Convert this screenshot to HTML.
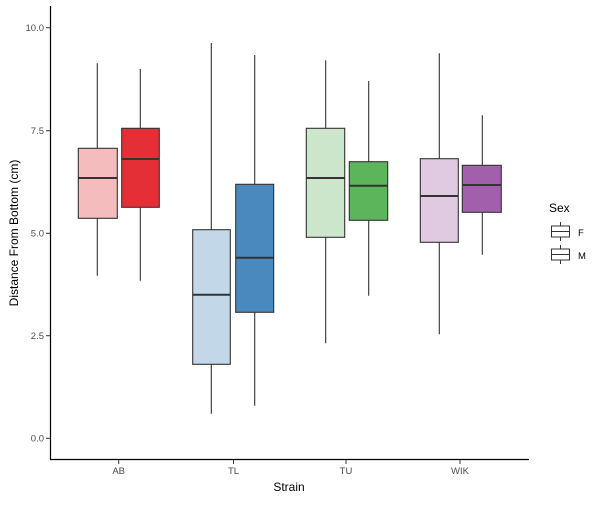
<!DOCTYPE html>
<html><head><style>body{margin:0;background:#fff}</style></head><body>
<svg width="600" height="500" xmlns="http://www.w3.org/2000/svg" font-family="Liberation Sans, sans-serif">
<rect width="600" height="500" fill="#fff"/>
<g stroke="#333" stroke-width="1.1">
<!-- AB F -->
<line x1="97.3" y1="63.3" x2="97.3" y2="275.7"/>
<rect x="78.3" y="148.3" width="39" height="70" fill="#f4bcbc"/>
<line x1="78.3" y1="178" x2="117.3" y2="178" stroke-width="2"/>
<!-- AB M -->
<line x1="140.3" y1="69" x2="140.3" y2="280.7"/>
<rect x="121.7" y="128.3" width="37.6" height="79" fill="#e42f36"/>
<line x1="121.7" y1="159" x2="159.3" y2="159" stroke-width="2"/>
<!-- TL F -->
<line x1="211.3" y1="43" x2="211.3" y2="413.7"/>
<rect x="192.7" y="229.7" width="37.6" height="134.6" fill="#c2d7e8"/>
<line x1="192.7" y1="294.7" x2="230.3" y2="294.7" stroke-width="2"/>
<!-- TL M -->
<line x1="254.7" y1="55" x2="254.7" y2="405.7"/>
<rect x="235.7" y="184.3" width="38" height="128" fill="#4a89be"/>
<line x1="235.7" y1="257.7" x2="273.7" y2="257.7" stroke-width="2"/>
<!-- TU F -->
<line x1="325.7" y1="60.3" x2="325.7" y2="343.3"/>
<rect x="306.3" y="128.3" width="38.4" height="109" fill="#cbe6ca"/>
<line x1="306.3" y1="178" x2="344.7" y2="178" stroke-width="2"/>
<!-- TU M -->
<line x1="368.7" y1="81" x2="368.7" y2="295.7"/>
<rect x="349.3" y="161.7" width="38.4" height="58.6" fill="#5cb55b"/>
<line x1="349.3" y1="185.7" x2="387.7" y2="185.7" stroke-width="2"/>
<!-- WIK F -->
<line x1="439.3" y1="53.3" x2="439.3" y2="334.3"/>
<rect x="420.3" y="158.7" width="38" height="83.6" fill="#dfcae2"/>
<line x1="420.3" y1="196" x2="458.3" y2="196" stroke-width="2"/>
<!-- WIK M -->
<line x1="482.3" y1="115.3" x2="482.3" y2="254.7"/>
<rect x="462.3" y="165.3" width="39" height="47" fill="#a25fac"/>
<line x1="462.3" y1="185" x2="501.3" y2="185" stroke-width="2"/>
</g>
<!-- axes -->
<g stroke="#000" stroke-width="1.2">
<line x1="50.5" y1="6" x2="50.5" y2="459.5"/>
<line x1="50" y1="459.5" x2="529" y2="459.5"/>
</g>
<g stroke="#333" stroke-width="1">
<line x1="46" y1="27.7" x2="50" y2="27.7"/><line x1="46" y1="130.7" x2="50" y2="130.7"/>
<line x1="46" y1="233.3" x2="50" y2="233.3"/><line x1="46" y1="335.7" x2="50" y2="335.7"/>
<line x1="46" y1="438.3" x2="50" y2="438.3"/>
<line x1="118.7" y1="460" x2="118.7" y2="464"/><line x1="233.5" y1="460" x2="233.5" y2="464"/>
<line x1="346" y1="460" x2="346" y2="464"/><line x1="460" y1="460" x2="460" y2="464"/>
</g>
<g font-size="9.5" fill="#4d4d4d" text-anchor="end">
<text x="44" y="31">10.0</text><text x="44" y="134">7.5</text><text x="44" y="236.5">5.0</text>
<text x="44" y="339">2.5</text><text x="44" y="441.5">0.0</text>
</g>
<g font-size="9.5" fill="#4d4d4d" text-anchor="middle">
<text x="118.7" y="474">AB</text><text x="233.5" y="474">TL</text><text x="346" y="474">TU</text><text x="460" y="474">WIK</text>
</g>
<text x="289" y="491" font-size="12" text-anchor="middle" fill="#000">Strain</text>
<text transform="translate(18,233) rotate(-90)" font-size="12" text-anchor="middle" fill="#000">Distance From Bottom (cm)</text>
<text x="549" y="212" font-size="12" fill="#000">Sex</text>
<g stroke="#333" stroke-width="1" fill="#fff">
<line x1="560.5" y1="222" x2="560.5" y2="241"/>
<rect x="551.5" y="226" width="18" height="11"/>
<line x1="551.5" y1="231.5" x2="569.5" y2="231.5"/>
<line x1="560.5" y1="245" x2="560.5" y2="264"/>
<rect x="551.5" y="249" width="18" height="11"/>
<line x1="551.5" y1="254.5" x2="569.5" y2="254.5"/>
</g>
<text x="578" y="236" font-size="9.5" fill="#000">F</text>
<text x="578" y="259" font-size="9.5" fill="#000">M</text>
</svg>
</body></html>
